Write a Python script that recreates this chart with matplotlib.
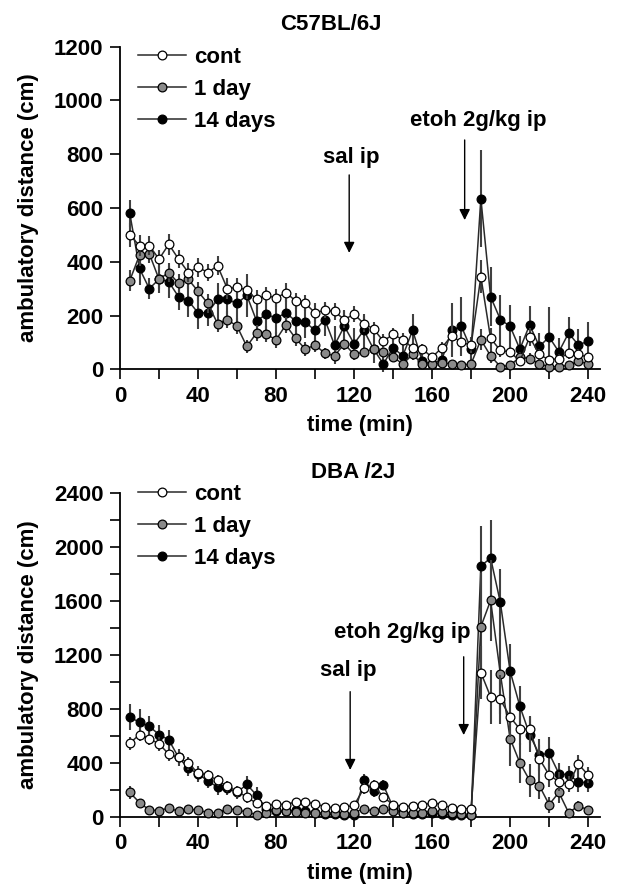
import matplotlib
matplotlib.use("Agg")
import matplotlib.pyplot as plt
from matplotlib.ticker import MultipleLocator

plt.rcParams['font.family'] = ['Liberation Sans', 'DejaVu Sans']
plt.rcParams['font.weight'] = 'bold'

minutes = list(range(5, 241, 5))
labels = ["cont", "1 day", "14 days"]

# C57BL/6J
c57_cont = [500, 460, 460, 410, 465, 410, 360, 380, 360, 385,
            300, 305, 295, 260, 275, 265, 285, 255, 245, 210,
            220, 215, 185, 205, 170, 150, 105, 130, 110, 80,
            75, 45, 80, 125, 100, 90, 345, 115, 70, 65,
            30, 120, 55, 35, 40, 60, 55, 45]
c57_1day = [330, 425, 430, 335, 360, 320, 335, 290, 245, 170,
            185, 160, 85, 135, 130, 110, 165, 115, 75, 90,
            60, 50, 95, 55, 65, 75, 65, 45, 20, 55,
            20, 20, 25, 20, 15, 20, 110, 50, 10, 15,
            45, 40, 20, 10, 10, 15, 30, 20]
c57_14day = [580, 375, 300, 335, 325, 270, 255, 210, 210, 260,
             260, 245, 275, 180, 205, 190, 210, 180, 175, 145,
             185, 90, 160, 95, 145, 75, 20, 80, 50, 145,
             30, 20, 35, 145, 160, 75, 635, 270, 185, 160,
             75, 165, 85, 120, 65, 135, 90, 105]
c57_cont_err = [45, 40, 35, 35, 40, 35, 35, 35, 30, 35,
                40, 35, 35, 35, 30, 35, 35, 30, 30, 35,
                30, 30, 30, 30, 30, 25, 25, 25, 25, 20,
                20, 15, 20, 40, 30, 30, 60, 40, 25, 20,
                15, 35, 20, 15, 15, 20, 20, 15]
c57_1day_err = [40, 40, 35, 35, 35, 35, 35, 35, 35, 30,
                30, 30, 25, 30, 30, 30, 30, 30, 25, 25,
                20, 20, 25, 20, 20, 20, 20, 15, 10, 20,
                10, 10, 10, 10, 10, 10, 40, 25, 10, 10,
                20, 20, 10, 10, 10, 10, 15, 10]
c57_14day_err = [50, 60, 40, 50, 60, 50, 60, 60, 50, 60,
                 70, 70, 80, 60, 60, 60, 70, 60, 60, 60,
                 60, 70, 60, 60, 60, 50, 30, 50, 40, 60,
                 30, 20, 30, 100, 110, 40, 180, 110, 90, 80,
                 50, 70, 50, 110, 50, 60, 60, 70]

# DBA/2J
dba_cont = [545, 610, 580, 540, 465, 440, 395, 325, 310, 270,
            225, 190, 145, 100, 80, 95, 90, 110, 110, 95,
            75, 65, 70, 85, 210, 235, 145, 90, 75, 80,
            85, 105, 90, 65, 60, 60, 1070, 890, 870, 740,
            650, 650, 430, 310, 260, 240, 390, 310]
dba_1day = [180, 105, 50, 45, 65, 40, 55, 50, 30, 30,
            60, 50, 35, 15, 30, 50, 40, 35, 30, 25,
            30, 25, 20, 30, 60, 40, 55, 45, 30, 30,
            30, 45, 35, 25, 20, 15, 1410, 1605, 1060, 580,
            400, 270, 230, 90, 180, 30, 80, 50]
dba_14day = [740, 700, 670, 610, 570, 440, 360, 320, 265, 220,
             210, 180, 240, 160, 60, 40, 40, 50, 40, 30,
             20, 20, 15, 15, 270, 190, 235, 70, 30, 20,
             20, 30, 20, 15, 10, 10, 1860, 1920, 1590, 1080,
             820, 610, 460, 470, 320, 310, 260, 250]
dba_cont_err = [50, 50, 50, 50, 50, 50, 50, 40, 40, 40,
                40, 40, 40, 30, 30, 30, 30, 30, 30, 30,
                25, 20, 20, 25, 40, 40, 30, 30, 25, 25,
                25, 30, 25, 20, 20, 20, 200, 200, 180, 150,
                120, 100, 100, 90, 70, 60, 70, 60]
dba_1day_err = [50, 30, 20, 15, 20, 15, 15, 15, 10, 10,
                20, 15, 10, 10, 10, 15, 10, 10, 10, 10,
                10, 10, 10, 10, 20, 15, 20, 15, 10, 10,
                10, 15, 10, 10, 10, 5, 400, 300, 300, 200,
                150, 120, 100, 60, 80, 20, 40, 20]
dba_14day_err = [100, 100, 80, 70, 70, 60, 60, 60, 50, 60,
                 50, 50, 60, 60, 20, 15, 15, 15, 15, 10,
                 10, 10, 10, 10, 50, 40, 40, 20, 10, 10,
                 10, 10, 10, 10, 5, 5, 300, 280, 250, 200,
                 150, 130, 120, 120, 80, 70, 80, 70]

fills = ["white", "#8a8a8a", "black"]
zorders = [5, 4, 3]
FS = 16


def draw_panel(ax, series, errors, ymax, ystep, ylabstep, title, title_xy,
               sal_txt, sal_arrow, etoh_txt, etoh_arrow, leg_y):
    for y, e, fc, z, lab in zip(series, errors, fills, zorders, labels):
        ax.errorbar(minutes, y, yerr=e, fmt='none', ecolor='#404040',
                    elinewidth=1.5, capsize=0, zorder=z - 0.5, clip_on=False)
        ax.plot(minutes, y, color='#2a2a2a', linewidth=1.1, marker='o',
                markersize=6.3, markerfacecolor=fc, markeredgecolor='black',
                markeredgewidth=0.9, label=lab, zorder=z, clip_on=False)

    ax.set_xlim(0, 246)
    ax.set_ylim(0, ymax)
    ax.xaxis.set_major_locator(MultipleLocator(40))
    ax.xaxis.set_minor_locator(MultipleLocator(20))
    ax.yaxis.set_major_locator(MultipleLocator(ylabstep))
    ax.yaxis.set_minor_locator(MultipleLocator(ystep))
    ax.tick_params(which='both', direction='out', length=7, width=1.2,
                   labelsize=FS)
    ax.tick_params(axis='y', pad=5)
    ax.tick_params(axis='x', pad=5)
    for s in ['top', 'right']:
        ax.spines[s].set_visible(False)
    for s in ['left', 'bottom']:
        ax.spines[s].set_linewidth(1.3)
    ax.spines['left'].set_bounds(0, ymax)

    ax.set_xlabel("time (min)", fontsize=FS, fontweight='bold', labelpad=6)
    ax.set_ylabel("ambulatory distance (cm)", fontsize=FS, fontweight='bold',
                  labelpad=11)
    ax.text(title_xy[0], title_xy[1], title, ha='center', va='center',
            fontsize=FS, fontweight='bold', clip_on=False)

    ax.annotate("", xy=(sal_arrow[0], sal_arrow[2]), xytext=(sal_arrow[0], sal_arrow[1]),
                arrowprops=dict(arrowstyle='-|>', color='black', lw=1.0,
                                mutation_scale=16, shrinkA=0, shrinkB=0))
    ax.text(sal_txt[0], sal_txt[1], "sal ip", ha='center', va='center',
            fontsize=FS, fontweight='bold')
    ax.annotate("", xy=(etoh_arrow[0], etoh_arrow[2]), xytext=(etoh_arrow[0], etoh_arrow[1]),
                arrowprops=dict(arrowstyle='-|>', color='black', lw=1.0,
                                mutation_scale=16, shrinkA=0, shrinkB=0))
    ax.text(etoh_txt[0], etoh_txt[1], "etoh 2g/kg ip", ha='center', va='center',
            fontsize=FS, fontweight='bold')

    leg = ax.legend(loc='upper left', bbox_to_anchor=(9, leg_y),
                    bbox_transform=ax.transData, frameon=False, fontsize=FS,
                    handlelength=2.2, handletextpad=0.35, labelspacing=0.5,
                    borderpad=0, borderaxespad=0)
    for t in leg.get_texts():
        t.set_fontweight('bold')


fig = plt.figure(figsize=(6.33, 8.86), dpi=100)
ax1 = fig.add_axes([0.1896, 0.5832, 0.758, 0.3641])
ax2 = fig.add_axes([0.1896, 0.0782, 0.758, 0.3650])

draw_panel(ax1, [c57_cont, c57_1day, c57_14day],
           [c57_cont_err, c57_1day_err, c57_14day_err],
           1200, 200, 200, "C57BL/6J", (108, 1281),
           (118.5, 786), (117.5, 723, 433), (183.8, 927), (176.7, 853, 555), 1200)
draw_panel(ax2, [dba_cont, dba_1day, dba_14day],
           [dba_cont_err, dba_1day_err, dba_14day_err],
           2400, 200, 400, "DBA /2J", (119.4, 2551),
           (117, 1088), (118, 928, 347), (144.5, 1366), (176.2, 1187, 606), 2470)

fig.savefig("out.png", dpi=100)
